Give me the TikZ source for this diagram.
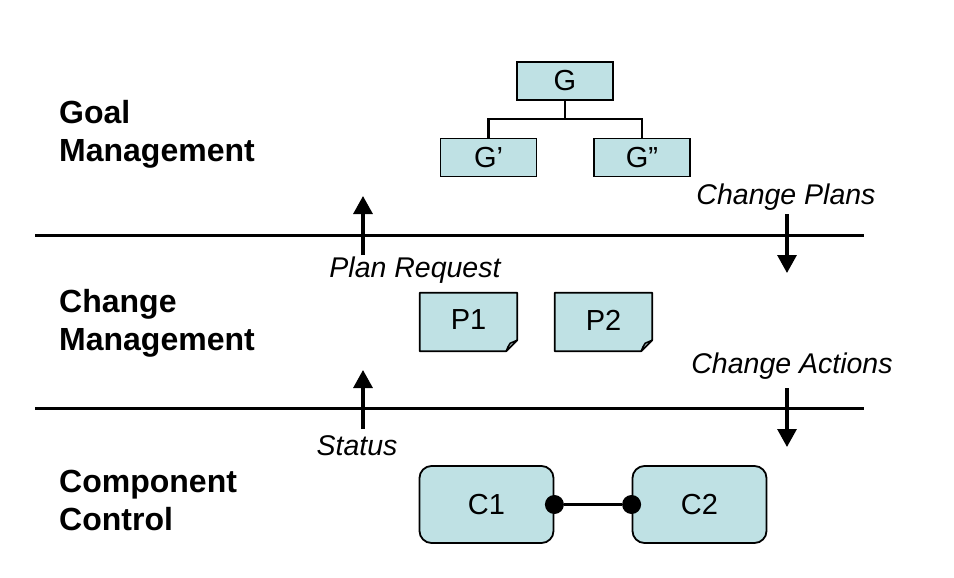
\documentclass[tikz,border=0pt]{standalone}
\usepackage{fontspec}
\setmainfont{Liberation Sans}
\usetikzlibrary{arrows.meta}
\definecolor{boxfill}{RGB}{191,225,228}
\tikzset{
  lvl/.style={font=\bfseries\fontsize{32}{38}\selectfont, align=left, anchor=west, inner sep=0pt},
  flowlbl/.style={font=\itshape\fontsize{28.5}{34}\selectfont, inner sep=0pt},
  goalbox/.style={draw, line width=1.8pt, fill=boxfill, minimum width=96pt, minimum height=38pt, inner sep=0pt, font=\fontsize{29}{32}\selectfont},
  compbox/.style={draw, line width=1.8pt, fill=boxfill, rounded corners=12pt, minimum width=134pt, minimum height=77pt, inner sep=0pt, font=\fontsize{29}{32}\selectfont},
  notebox/.style={minimum width=97pt, minimum height=58pt, inner sep=0pt},
  notetext/.style={inner sep=0pt, font=\fontsize{29}{32}\selectfont},
  divider/.style={line width=3pt},
  flow/.style={line width=3.2pt, -{Triangle[length=18pt,width=19pt]}},
  tree/.style={line width=2.2pt},
  port/.style={circle, fill=black, minimum size=19pt, inner sep=0pt}
}
\begin{document}
\begin{tikzpicture}[x=1pt,y=-1pt]
\useasboundingbox (0,0) rectangle (954,578);

% level labels
\node[lvl] (goal) at (59,134) {Goal\\Management};
\node[lvl] (change) at (59,323) {Change\\Management};
\node[lvl] (comp) at (59,500) {Component\\Control};

% dividers
\coordinate (d1l) at (35,235); \coordinate (d1r) at (864,235);
\coordinate (d2l) at (35,408); \coordinate (d2r) at (864,408);
\draw[divider] (d1l) -- (d1r);
\draw[divider] (d2l) -- (d2r);

% goal tree
\node[goalbox] (G) at (565,81) {G};
\node[goalbox] (G1) at (488.5,157.5) {G’};
\node[goalbox] (G2) at (642,157.5) {G”};
\coordinate (tj) at (565,119);
\draw[tree] (G.south) -- (tj);
\draw[tree] (G1.north) |- (tj) -| (G2.north);

% plan notes
\node[notebox] (P1) at (468.5,322) {};
\node[notebox] (P2) at (603.5,322) {};
\foreach \n in {P1,P2}{
  \draw[line width=1.8pt, fill=boxfill, line join=round]
    (\n.north west) -- (\n.north east) -- ([yshift=11pt]\n.south east)
    -- ([xshift=-11pt]\n.south east) -- (\n.south west) -- cycle;
  \draw[line width=1.5pt, fill=boxfill!55!gray, line join=round]
    ([xshift=-11pt]\n.south east) .. controls ([xshift=-9pt,yshift=5pt]\n.south east) .. ([xshift=-7pt,yshift=8pt]\n.south east)
    .. controls ([xshift=-4pt,yshift=9pt]\n.south east) .. ([yshift=11pt]\n.south east) -- cycle;
  \node[notetext] (\n-label) at ([yshift=2pt]\n.center) {\n};
}

% components
\node[compbox] (C1) at (486.5,504.5) {C1};
\node[compbox] (C2) at (699.5,504.5) {C2};
\node[port] (p1) at (C1.east) {};
\node[port] (p2) at (C2.west) {};
\draw[line width=2.6pt] (p1) -- (p2);

% flows
\coordinate (a1s) at (363,255); \coordinate (a1e) at (363,196);
\coordinate (a2s) at (787,214); \coordinate (a2e) at (787,273);
\coordinate (a3s) at (363,429); \coordinate (a3e) at (363,370);
\coordinate (a4s) at (787,388); \coordinate (a4e) at (787,447);
\draw[flow] (a1s) -- (a1e);
\draw[flow] (a2s) -- (a2e);
\draw[flow] (a3s) -- (a3e);
\draw[flow] (a4s) -- (a4e);

\node[flowlbl] (lpr) at (415,270) {Plan Request};
\node[flowlbl] (lcp) at (786,197) {Change Plans};
\node[flowlbl] (lca) at (792,366) {Change Actions};
\node[flowlbl] (lst) at (357,446) {Status};
\end{tikzpicture}
\end{document}
